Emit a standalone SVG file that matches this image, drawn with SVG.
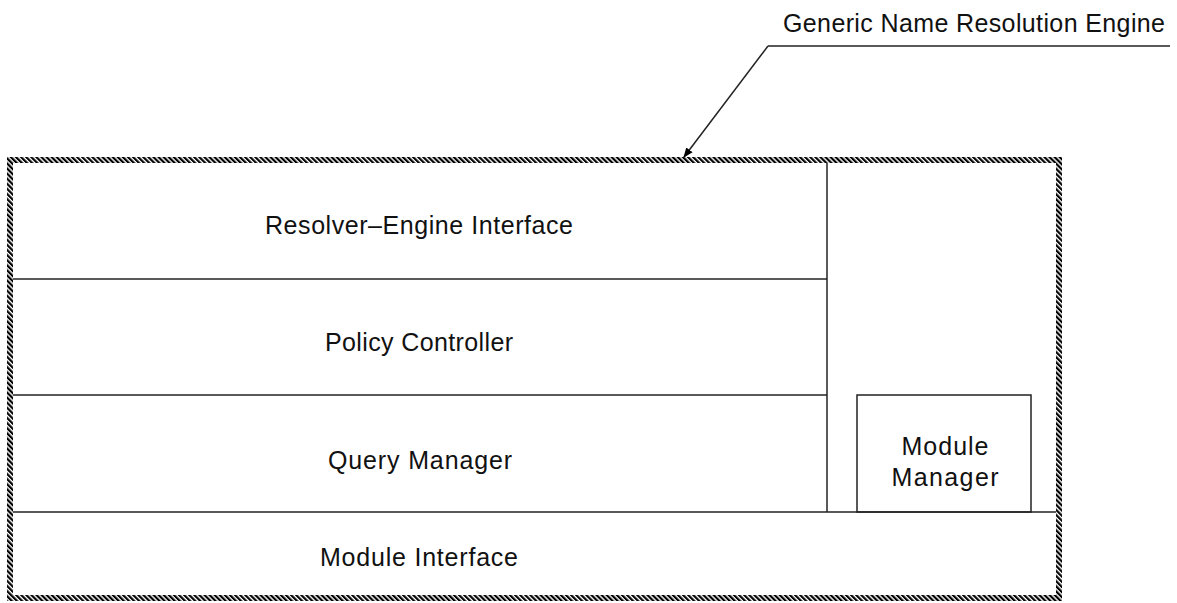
<svg xmlns="http://www.w3.org/2000/svg" width="1177" height="603" viewBox="0 0 1177 603">
  <defs>
    <!-- diagonal hatch used for the engine's outer boundary -->
    <pattern id="hatch" patternUnits="userSpaceOnUse" width="3.6" height="10" patternTransform="rotate(-45)">
      <rect width="3.6" height="10" fill="#fff"/>
      <rect width="2.2" height="10" fill="#000"/>
    </pattern>
    <marker id="arrow" viewBox="0 0 10 10" refX="9" refY="5" markerWidth="10" markerHeight="10" markerUnits="userSpaceOnUse" orient="auto">
      <path d="M0,1 L10,5 L0,9 Z" fill="#000"/>
    </marker>
  </defs>
  <style>
    .lbl { font-family: "Liberation Sans", Arial, sans-serif; font-size: 25px; fill: #111; text-anchor: middle; }
    .line { stroke: #222; stroke-width: 1.5; fill: none; }
    .frame { fill: none; stroke: url(#hatch); stroke-width: 6; }
  </style>
  <rect width="1177" height="603" fill="#fff"/>

  <!-- Engine boundary -->
  <g id="engine">
    <rect class="frame" x="10" y="160" width="1049" height="438"/>
  </g>

  <!-- Layers -->
  <g id="resolver-engine-interface">
    <text class="lbl" x="419" y="234" textLength="308">Resolver–Engine Interface</text>
  </g>
  <g id="policy-controller">
    <line class="line" x1="13" y1="279" x2="827" y2="279"/>
    <text class="lbl" x="419" y="351" textLength="188">Policy Controller</text>
  </g>
  <g id="query-manager">
    <line class="line" x1="13" y1="395" x2="827" y2="395"/>
    <text class="lbl" x="420" y="469" textLength="184">Query Manager</text>
  </g>
  <g id="side-column">
    <line class="line" x1="827" y1="163" x2="827" y2="512"/>
  </g>
  <g id="module-manager">
    <rect class="line" x="857" y="395" width="174" height="117"/>
    <text class="lbl" x="945" y="455" textLength="87">Module</text>
    <text class="lbl" x="945" y="486" textLength="107">Manager</text>
  </g>
  <g id="module-interface">
    <line class="line" x1="13" y1="512" x2="1056" y2="512"/>
    <text class="lbl" x="419" y="566" textLength="198">Module Interface</text>
  </g>

  <!-- Callout -->
  <g id="callout-label">
    <text class="lbl" x="974" y="32" textLength="382">Generic Name Resolution Engine</text>
  </g>
  <g id="connectors">
    <line class="line" x1="768" y1="46" x2="1170" y2="46"/>
    <line class="line" x1="768" y1="46" x2="684" y2="157" stroke-width="1.2" marker-end="url(#arrow)"/>
  </g>
</svg>
